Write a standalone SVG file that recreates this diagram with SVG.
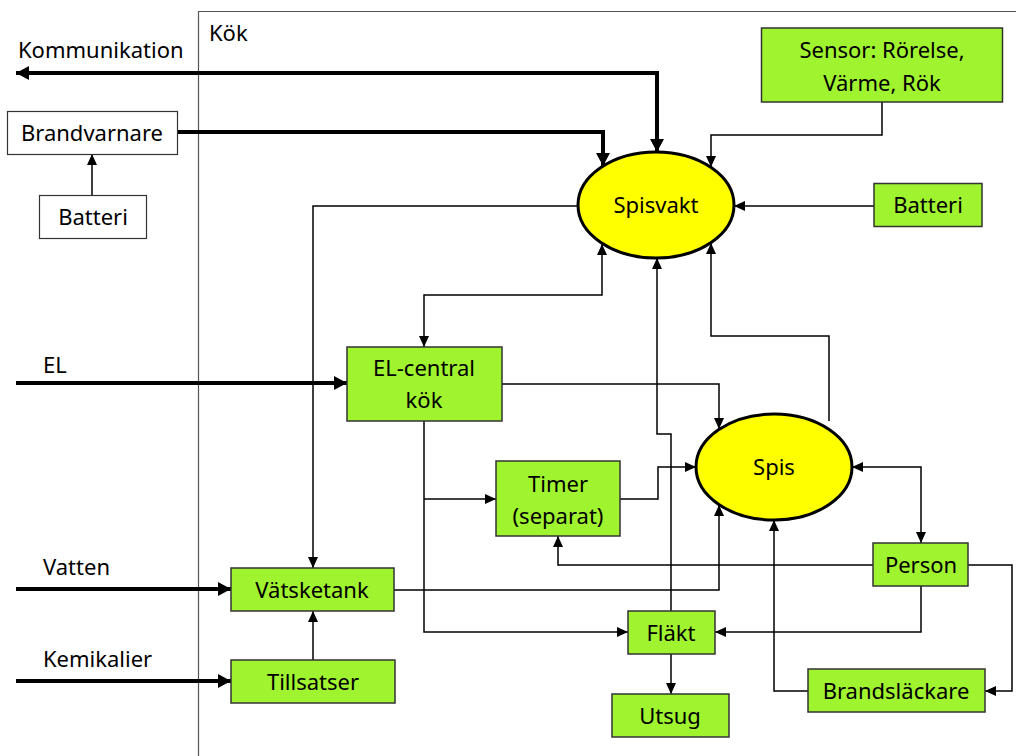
<svg xmlns="http://www.w3.org/2000/svg" width="1016" height="756" viewBox="0 0 1016 756">
<style>
text{font-family:"Noto Sans","Open Sans","Liberation Sans",sans-serif;font-size:22px;fill:#000;text-anchor:middle}
.lbl{text-anchor:start}
.box{fill:#9FF32F;stroke:#333;stroke-width:1.5}
.wbox{fill:#fff;stroke:#333;stroke-width:1.2}
.ell{fill:#FFFF00;stroke:#000;stroke-width:3}
.c{fill:none;stroke:#000;stroke-width:1.5}
.t{fill:none;stroke:#000;stroke-width:4}
</style>
<defs>
<marker id="a" markerUnits="userSpaceOnUse" markerWidth="12" markerHeight="10" refX="11" refY="5" orient="auto-start-reverse"><path d="M0,0 L11,5 L0,10 Z" fill="#000"/></marker>
<marker id="b" markerUnits="userSpaceOnUse" markerWidth="14" markerHeight="14" refX="13" refY="7" orient="auto"><path d="M0,0 L13,7 L0,14 Z" fill="#000"/></marker>
</defs>
<rect x="0" y="0" width="1016" height="756" fill="#fff"/>
<path d="M198.5,756 V11.5 H1016" fill="none" stroke="#555" stroke-width="1.2"/>
<text class="lbl" x="209" y="41">Kök</text>
<text class="lbl" x="18" y="58">Kommunikation</text>
<text class="lbl" x="43" y="373">EL</text>
<text class="lbl" x="43" y="575">Vatten</text>
<text class="lbl" x="43" y="667">Kemikalier</text>
<g id="connectors">
<path class="t" d="M657,140 V73 H16" marker-end="url(#b)"/>
<path class="t" d="M657,73 V152" marker-end="url(#b)"/>
<path class="t" d="M177,132 H603 V166" marker-end="url(#b)"/>
<path class="t" d="M16,383 H347" marker-end="url(#b)"/>
<path class="t" d="M16,589 H231" marker-end="url(#b)"/>
<path class="t" d="M16,681 H231" marker-end="url(#b)"/>
<path class="c" d="M92,195 V154" marker-end="url(#a)"/>
<path class="c" d="M882,102 V135 H711 V167" marker-end="url(#a)"/>
<path class="c" d="M874,206 H734" marker-end="url(#a)"/>
<path class="c" d="M578,206 H313 V568" marker-end="url(#a)"/>
<path class="c" d="M424,347 V295 H602 V244" marker-start="url(#a)" marker-end="url(#a)"/>
<path class="c" d="M671,611 V434 H657 V258" marker-end="url(#a)"/>
<path class="c" d="M829,421 V336 H711 V243" marker-end="url(#a)"/>
<path class="c" d="M502,384 H719 V429" marker-end="url(#a)"/>
<path class="c" d="M852,467 H921 V543" marker-start="url(#a)" marker-end="url(#a)"/>
<path class="c" d="M424,421 V632 H628" marker-end="url(#a)"/>
<path class="c" d="M424,499 H496" marker-end="url(#a)"/>
<path class="c" d="M620,499 H658 V467 H696" marker-end="url(#a)"/>
<path class="c" d="M873,565 H558 V536" marker-end="url(#a)"/>
<path class="c" d="M394,590 H719 V505" marker-end="url(#a)"/>
<path class="c" d="M313,660 V611" marker-end="url(#a)"/>
<path class="c" d="M671,654 V694" marker-end="url(#a)"/>
<path class="c" d="M921,586 V632 H715" marker-end="url(#a)"/>
<path class="c" d="M968,565 H1012 V691 H985" marker-end="url(#a)"/>
<path class="c" d="M808,691 H774 V520" marker-end="url(#a)"/>
</g>
<g id="brandvarnare"><rect class="wbox" x="7.5" y="111.5" width="170" height="43"/><text x="92" y="141">Brandvarnare</text></g>
<g id="batteri-left"><rect class="wbox" x="39.5" y="195.5" width="107" height="43"/><text x="93" y="225">Batteri</text></g>
<g id="spisvakt"><ellipse class="ell" cx="656" cy="205" rx="78" ry="53"/><text x="656" y="213">Spisvakt</text></g>
<g id="sensor"><rect class="box" x="761.5" y="28" width="241" height="74"/><text x="882" y="58">Sensor: Rörelse,</text><text x="882" y="91">Värme, Rök</text></g>
<g id="batteri-right"><rect class="box" x="874" y="183.5" width="108" height="43"/><text x="928" y="213">Batteri</text></g>
<g id="el-central"><rect class="box" x="347" y="347" width="155" height="74"/><text x="424" y="376">EL-central</text><text x="424" y="408">kök</text></g>
<g id="spis"><ellipse class="ell" cx="774" cy="467" rx="78" ry="53"/><text x="774" y="475">Spis</text></g>
<g id="timer"><rect class="box" x="496" y="461" width="124" height="75"/><text x="558" y="492">Timer</text><text x="558" y="524">(separat)</text></g>
<g id="person"><rect class="box" x="873" y="543" width="95" height="43"/><text x="921" y="573">Person</text></g>
<g id="vatsketank"><rect class="box" x="231" y="568" width="163" height="43"/><text x="312" y="598">Vätsketank</text></g>
<g id="tillsatser"><rect class="box" x="231" y="660" width="164" height="43"/><text x="313" y="690">Tillsatser</text></g>
<g id="flakt"><rect class="box" x="628" y="611" width="87" height="43"/><text x="671" y="641">Fläkt</text></g>
<g id="utsug"><rect class="box" x="612" y="694" width="117" height="43"/><text x="670" y="724">Utsug</text></g>
<g id="brandslackare"><rect class="box" x="808" y="669" width="177" height="43"/><text x="896" y="699">Brandsläckare</text></g>
</svg>
